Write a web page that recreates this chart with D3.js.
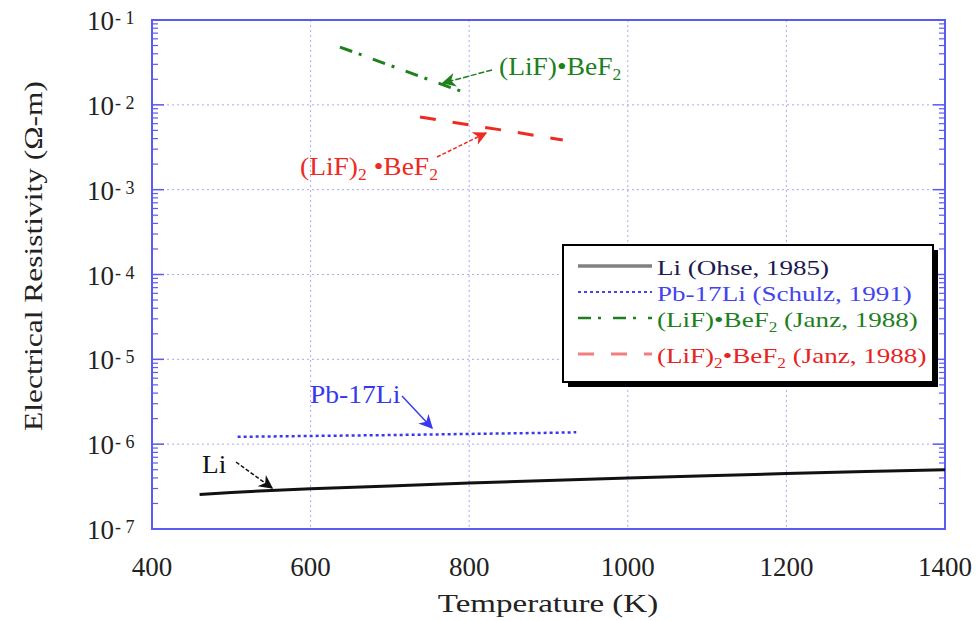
<!DOCTYPE html>
<html><head><meta charset="utf-8">
<script src="https://cdn.jsdelivr.net/npm/d3@7"></script>
<style>body{margin:0;background:#fff}svg{display:block}text{font-family:"Liberation Serif","Times New Roman",serif}</style>
</head><body><svg id="c" width="979" height="621"></svg>
<script>
// ---- data ----
const liT = [460, 500, 600, 700, 800, 900, 1000, 1100, 1200, 1300, 1400];
const liR = [2.55e-7, 2.7e-7, 2.98e-7, 3.22e-7, 3.48e-7, 3.74e-7, 4.0e-7, 4.25e-7, 4.5e-7, 4.75e-7, 5.0e-7];
const pbT = [508, 600, 700, 800, 900, 935];
const pbR = [1.22e-6, 1.25e-6, 1.28e-6, 1.32e-6, 1.36e-6, 1.38e-6];
const lifT = [637, 700, 750, 792];
const lifR = [0.048, 0.0292, 0.0197, 0.0142];
const lif2T = [738, 800, 850, 918];
const lif2R = [0.0072, 0.0058, 0.0049, 0.00385];
const xTicks = [400, 600, 800, 1000, 1200, 1400];
const yExps = [-1, -2, -3, -4, -5, -6, -7];

const svg = d3.select("#c");
const L = 152, R = 945, T = 20, B = 529;
const x = d3.scaleLinear().domain([400, 1400]).range([L, R]);
const y = d3.scaleLog().domain([1e-7, 1e-1]).range([B, T]);
const axisCol = "#5a5af5", gridCol = "#a8a8ff";

// grid
const g = svg.append("g");
g.selectAll(".gx").data(xTicks.slice(1, -1)).join("line")
  .attr("x1", d => x(d)).attr("x2", d => x(d)).attr("y1", T).attr("y2", B)
  .attr("stroke", gridCol).attr("stroke-width", 1).attr("stroke-dasharray", "2,3");
g.selectAll(".gy").data(yExps.slice(1, -1)).join("line")
  .attr("x1", L).attr("x2", R).attr("y1", d => y(Math.pow(10, d))).attr("y2", d => y(Math.pow(10, d)))
  .attr("stroke", gridCol).attr("stroke-width", 1).attr("stroke-dasharray", "2,3");

// log ticks left & right
const minor = [];
for (let e = -7; e < -1; e++) for (let m = 2; m <= 9; m++) minor.push(m * Math.pow(10, e));
const major = yExps.map(e => Math.pow(10, e));
[[L, 1], [R, -1]].forEach(([x0, dir]) => {
  g.selectAll(null).data(minor).join("line")
    .attr("x1", x0).attr("x2", x0 + dir * 6).attr("y1", d => y(d)).attr("y2", d => y(d))
    .attr("stroke", axisCol).attr("stroke-width", 1.2);
  g.selectAll(null).data(major).join("line")
    .attr("x1", x0).attr("x2", x0 + dir * 12).attr("y1", d => y(d)).attr("y2", d => y(d))
    .attr("stroke", axisCol).attr("stroke-width", 1.5);
});

// frame
svg.append("rect").attr("x", L).attr("y", T).attr("width", R - L).attr("height", B - T)
  .attr("fill", "none").attr("stroke", axisCol).attr("stroke-width", 2);

// y tick labels
const yl = svg.append("g");
yExps.forEach(e => {
  const yy = y(Math.pow(10, e));
  yl.append("text").attr("x", 87).attr("y", yy + 10).attr("font-size", 27).attr("fill", "#222").text("10");
  yl.append("text").attr("x", 115).attr("y", yy + 4).attr("font-size", 18).attr("fill", "#222").text("- " + (-e));
});
// x tick labels
svg.selectAll(".xl").data(xTicks).join("text")
  .attr("x", d => x(d)).attr("y", 576).attr("text-anchor", "middle").attr("font-size", 27)
  .attr("fill", "#222").text(d => d);

// helper for horizontally scaled text
function stext(tx, ty, sx, size, fill, anchor, rot) {
  const gg = svg.append("g").attr("transform", `translate(${tx},${ty})` + (rot ? ` rotate(${rot})` : "") + ` scale(${sx},1)`);
  return gg.append("text").attr("x", 0).attr("y", 0).attr("font-size", size).attr("fill", fill)
    .attr("text-anchor", anchor || "start");
}

// axis titles
stext(548, 612, 1.27, 26, "#222", "middle").text("Temperature (K)");
stext(42, 256, 1.21, 26, "#222", "middle", -90).text("Electrical Resistivity (\u03A9-m)");

// series
const line = d3.line().x(d => x(d[0])).y(d => y(d[1]));
const zip = (a, b) => a.map((v, i) => [v, b[i]]);
const series = [
  { T: liT, R: liR, col: "#111", w: 3, dash: null },
  { T: pbT, R: pbR, col: "#3838f0", w: 2.5, dash: "3,3" },
  { T: lifT, R: lifR, col: "#1d801d", w: 3, dash: "13,7,3,12" },
  { T: lif2T, R: lif2R, col: "#ee2a22", w: 3, dash: "16,17" }
];
series.forEach(s => {
  svg.append("path").attr("d", line(zip(s.T, s.R))).attr("fill", "none")
    .attr("stroke", s.col).attr("stroke-width", s.w).attr("stroke-dasharray", s.dash);
});

// arrowheads
const defs = svg.append("defs");
[["aG", "#1d801d"], ["aR", "#ee2a22"], ["aB", "#3838f0"], ["aK", "#111"]].forEach(([id, c]) => {
  defs.append("marker").attr("id", id).attr("viewBox", "0 0 10 10").attr("refX", 9).attr("refY", 5)
    .attr("orient", "auto").attr("markerUnits", "userSpaceOnUse")
    .attr("markerWidth", 18).attr("markerHeight", 14)
    .append("path").attr("d", "M0,0 L10,5 L0,10 L3,5 Z").attr("fill", c);
});
function arrow(x1, y1, x2, y2, c, m, dash) {
  svg.append("line").attr("x1", x1).attr("y1", y1).attr("x2", x2).attr("y2", y2)
    .attr("stroke", c).attr("stroke-width", 1.5).attr("stroke-dasharray", dash || null)
    .attr("marker-end", "url(#" + m + ")");
}
arrow(492, 70, 443, 83, "#1d801d", "aG", "6,2");
arrow(437, 157, 486, 133, "#ee2a22", "aR", "4,2");
arrow(402, 396, 432, 428, "#3838f0", "aB");
arrow(236, 462, 272, 488, "#111", "aK", "4,2");

// formula text helper
function formula(sel, parts, sub) {
  parts.forEach(p => {
    if (p.sub) sel.append("tspan").attr("font-size", sub).attr("dy", 5).text(p.t);
    else sel.append("tspan").attr("dy", p.after ? -5 : 0).text(p.t);
  });
}
const lifParts = [{ t: "(LiF)\u2022BeF" }, { t: "2", sub: true }];
const lif2Parts = [{ t: "(LiF)" }, { t: "2", sub: true }, { t: " \u2022BeF", after: true }, { t: "2", sub: true }];

formula(stext(499, 75, 1.1, 25, "#1d801d"), lifParts, 16);
formula(stext(300, 175, 1.1, 25, "#ee2a22"), lif2Parts, 16);
stext(310, 403, 1.06, 26, "#3838f0").text("Pb-17Li");
stext(202, 473, 1.05, 26, "#111").text("Li");

// legend
const lg = svg.append("g");
lg.append("rect").attr("x", 568).attr("y", 250).attr("width", 370).attr("height", 137).attr("fill", "#000");
lg.append("rect").attr("x", 563).attr("y", 245).attr("width", 370).attr("height", 137)
  .attr("fill", "#fff").attr("stroke", "#000").attr("stroke-width", 2);
const legItems = [
  { col: "#808080", tcol: "#1a1a50", dash: null, w: 3.5, y: 266, parts: [{ t: "Li (Ohse, 1985)" }] },
  { col: "#4444ee", tcol: "#4444ee", dash: "3,3", w: 2, y: 292, parts: [{ t: "Pb-17Li (Schulz, 1991)" }] },
  { col: "#1d801d", tcol: "#1d801d", dash: "13,7,3,12", w: 2.5, y: 318, parts: [{ t: "(LiF)\u2022BeF" }, { t: "2", sub: true }, { t: " (Janz, 1988)", after: true }] },
  { col: "#f08080", tcol: "#e8231f", dash: "16,17", w: 3, y: 354, parts: [{ t: "(LiF)" }, { t: "2", sub: true }, { t: "\u2022BeF", after: true }, { t: "2", sub: true }, { t: " (Janz, 1988)", after: true }] }
];
legItems.forEach(it => {
  lg.append("line").attr("x1", 578).attr("x2", 652).attr("y1", it.y).attr("y2", it.y)
    .attr("stroke", it.col).attr("stroke-width", it.w).attr("stroke-dasharray", it.dash);
  formula(stext(657, it.y + 9, 1.23, 22, it.tcol), it.parts, 14);
});
</script></body></html>
